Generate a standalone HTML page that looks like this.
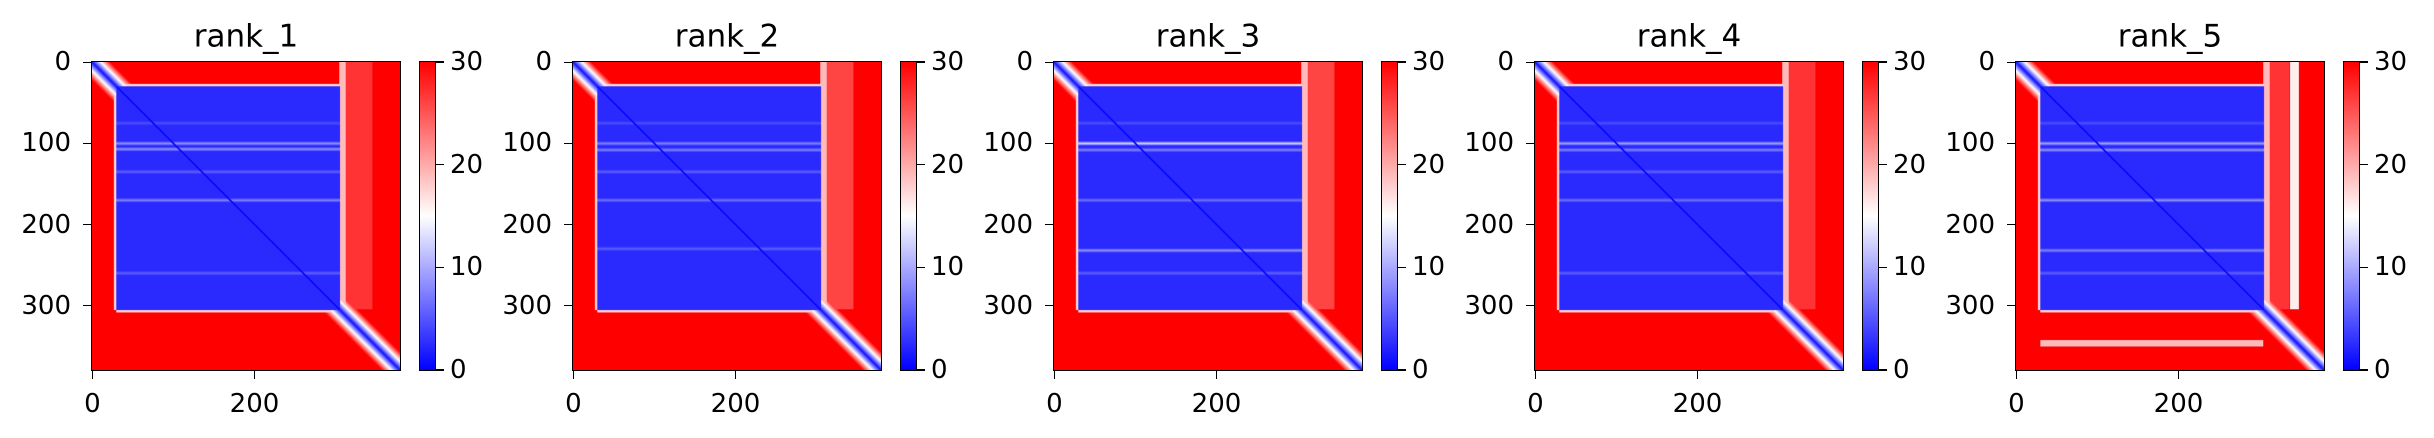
<!DOCTYPE html>
<html><head><meta charset="utf-8"><style>
html,body{margin:0;padding:0;background:#fff;width:2434px;height:438px;overflow:hidden}
#root{position:relative;width:2434px;height:438px;font-family:"DejaVu Sans","Liberation Sans",sans-serif}
</style></head><body><div id="root"></div>
<script>
// ---- data ----
const panelTitles = ["rank_1","rank_2","rank_3","rank_4","rank_5"];
const nResidues = 380;
const coreStart = [30,30,30,30,30];
const coreEnd = [305,305,305,305,305];
// horizontal white stripes inside core: [row, strength]
const coreStripes = [
  [[100,6],[107,6],[170,5],[135,3],[260,3],[75,2]],
  [[100,5],[108,5],[170,4],[135,3],[230,3],[75,2]],
  [[100,10],[108,5],[170,4],[232,6],[260,3],[75,2]],
  [[100,7],[108,5],[170,4],[135,3],[260,3],[75,2]],
  [[100,7],[108,6],[170,6],[232,5],[260,3],[75,2]]
];
// lighter bands in the right-hand columns (rows above core end): [from,to,value]
const tailColumnBands = [
  [[305,312,19],[312,345,27]],[[305,312,19],[312,345,26]],[[305,312,19],[312,345,26]],[[305,312,19],[312,345,27]],[[305,312,19],[312,336,27],[338,348,16]]
];
// lighter bands in bottom rows (cols in core): [from,to,value]
const tailRowBands = [[],[],[],[],[[343,350,19]]];
const cbarTicks = [0,10,20,30];
const yTicks = [0,100,200,300];
const xTicks = [0,200];
const vmax = 30;

const root = document.getElementById('root');
const axW = 308, axTop = 62, axH = 308, spacing = 481, firstLeft = 92;

function bwr(v){
  let t = Math.max(0, Math.min(1, v / vmax));
  let r,g,b;
  if (t < 0.5){ const s = t/0.5; r = 255*s; g = 255*s; b = 255; }
  else { const s = (t-0.5)/0.5; r = 255; g = 255*(1-s); b = 255*(1-s); }
  return [r,g,b];
}
function value(p,i,j){
  const cs = coreStart[p], ce = coreEnd[p];
  const d = Math.abs(i-j);
  let v = 30;
  const inI = i>=cs && i<=ce, inJ = j>=cs && j<=ce;
  if (inI && inJ){
    v = 2.5;
    for (const [r,s] of coreStripes[p]){
      const dd = Math.abs(i-r);
      if (dd<2.5) v = Math.max(v, 2.5+s*(1-dd/3));
    }
    if (d<2) v = 0.5;
  } else {
    for (const [a,b,val] of tailColumnBands[p]){
      if (j>=a&&j<=b&&i<ce) v = Math.min(v,val);
    }
    for (const [a,b,val] of tailRowBands[p]){
      if (i>=a&&i<=b&&j>=cs&&j<ce) v = Math.min(v,val);
    }
    // halo near core boundary
    if (inJ && i>ce && i<ce+4) v = Math.min(v, 18);
    if (inI && j<cs && j>cs-4) v = Math.min(v, 18);
    if (inJ && i<cs && i>cs-4 && j>cs+4) v = Math.min(v, 18);
    v = Math.min(v, 1 + d*1.3);
  }
  return v;
}
function el(tag, attrs, parent){
  const e = document.createElement(tag);
  Object.assign(e.style, attrs);
  parent.appendChild(e);
  return e;
}
function text(str, x, y, size, align, parent, name){
  const t = el('div', {position:'absolute', left:x+'px', top:y+'px', fontSize:size+'px', whiteSpace:'nowrap', color:'#000', lineHeight:'1'}, parent);
  t.textContent = str;
  if (align==='center') t.style.transform='translate(-50%,-50%)';
  else if (align==='right') t.style.transform='translate(-100%,-50%)';
  else t.style.transform='translate(0,-50%)';
  
  
  return t;
}
const yScale = v => axTop + (v+0.5)/nResidues*axH;

panelTitles.forEach((title,p)=>{
  const left = firstLeft + p*spacing;
  text(title, left+axW/2, 37, 31, 'center', root, 'panel-title');
  const c = document.createElement('canvas');
  c.width = nResidues; c.height = nResidues;
  Object.assign(c.style,{position:'absolute',left:left+'px',top:axTop+'px',width:axW+'px',height:axH+'px'});
  
  
  root.appendChild(c);
  const ctx = c.getContext('2d');
  const img = ctx.createImageData(nResidues,nResidues);
  for (let i=0;i<nResidues;i++) for (let j=0;j<nResidues;j++){
    const [r,g,b] = bwr(value(p,i,j));
    const k = (i*nResidues+j)*4;
    img.data[k]=r; img.data[k+1]=g; img.data[k+2]=b; img.data[k+3]=255;
  }
  ctx.putImageData(img,0,0);
  const frame = el('div',{position:'absolute',left:(left-1)+'px',top:(axTop-1)+'px',width:axW+'px',height:axH+'px',border:'1.5px solid #000'},root);
  
  
  yTicks.forEach(v=>{
    const y = yScale(v);
    const tk = el('div',{position:'absolute',left:(left-9)+'px',top:(y-0.75)+'px',width:'9px',height:'1.5px',background:'#000'},root);
    
    
    text(String(v), left-21, y, 26, 'right', root, 'y-tick-label');
  });
  xTicks.forEach(v=>{
    const x = left + (v+0.5)/nResidues*axW;
    const tk = el('div',{position:'absolute',left:(x-0.75)+'px',top:(axTop+axH)+'px',width:'1.5px',height:'9px',background:'#000'},root);
    
    
    text(String(v), x, axTop+axH+34, 26, 'center', root, 'x-tick-label');
  });
  const cbL = left+328;
  const cb = el('div',{position:'absolute',left:cbL+'px',top:axTop+'px',width:'15px',height:axH+'px',
    background:'linear-gradient(to top, rgb(0,0,255), rgb(255,255,255) 50%, rgb(255,0,0))',outline:'1.5px solid #000'},root);
  
  
  cbarTicks.forEach(v=>{
    const y = axTop + axH - v/vmax*axH;
    const tk = el('div',{position:'absolute',left:(cbL+15)+'px',top:(y-0.75)+'px',width:'9px',height:'1.5px',background:'#000'},root);
    
    
    text(String(v), cbL+30, y, 26, 'left', root, 'colorbar-tick-label');
  });
});
</script></body></html>
